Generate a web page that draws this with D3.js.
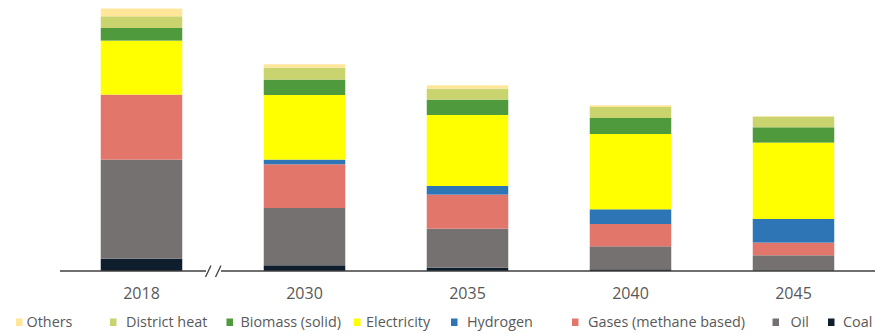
<!DOCTYPE html>
<html>
<head>
<meta charset="utf-8">
<script src="https://cdn.jsdelivr.net/npm/d3@7"></script>
<style>
  html, body { margin: 0; padding: 0; background: #fff; }
  svg { display: block; }
</style>
</head>
<body>
<svg id="chart" width="875" height="334"></svg>
<script>
// Final energy demand by carrier (TWh), scenario years
const years = ["2018", "2030", "2035", "2040", "2045"];

const coal        = [124,  57,  34,  17,   0];
const oil         = [990, 573, 390, 230, 157];
const gases       = [650, 437, 340, 223, 127];
const hydrogen    = [  0,  47,  86, 147, 236];
const electricity = [540, 646, 710, 753, 764];
const biomass     = [126, 154, 154, 160, 153];
const districtHeat= [117, 120, 110, 110, 107];
const others      = [ 77,  33,  33,  17,   6];

// Stack order from the bottom up
const seriesKeys   = ["Coal", "Oil", "Gases (methane based)", "Hydrogen", "Electricity", "Biomass (solid)", "District heat", "Others"];
const seriesValues = [coal, oil, gases, hydrogen, electricity, biomass, districtHeat, others];
const seriesColors = ["#0f1e2d", "#767171", "#e3766b", "#2e75b6", "#ffff00", "#4e9a3c", "#c9d46e", "#ffe699"];

// Legend reads left to right in the reverse of the stack
const legendOrder = ["Others", "District heat", "Biomass (solid)", "Electricity", "Hydrogen", "Gases (methane based)", "Oil", "Coal"];

const svg = d3.select("#chart");
const W = 875, baseY = 271;

const rows = years.map((y, i) => {
  const r = { year: y };
  seriesKeys.forEach((k, j) => { r[k] = seriesValues[j][i]; });
  return r;
});

const x = d3.scaleBand()
  .domain(years)
  .range([60, W])
  .paddingInner(0.5)
  .paddingOuter(0.25);

const y = d3.scaleLinear()
  .domain([0, 2700])
  .range([baseY, 1]);

const color = d3.scaleOrdinal().domain(seriesKeys).range(seriesColors);

const stacked = d3.stack().keys(seriesKeys)(rows);

svg.append("g")
  .selectAll("g")
  .data(stacked)
  .join("g")
    .attr("fill", d => color(d.key))
  .selectAll("rect")
  .data(d => d)
  .join("rect")
    .attr("x", d => x(d.data.year))
    .attr("width", x.bandwidth())
    .attr("y", d => y(d[1]))
    .attr("height", d => Math.max(0, y(d[0]) - y(d[1])));

// Baseline with an axis break between 2018 and 2030
const axisColor = "#3f3f3f";
const breakL = 206, breakR = 221;
svg.append("line")
  .attr("x1", 60).attr("x2", breakL).attr("y1", baseY).attr("y2", baseY)
  .attr("stroke", axisColor).attr("stroke-width", 1.3);
svg.append("line")
  .attr("x1", breakR).attr("x2", W).attr("y1", baseY).attr("y2", baseY)
  .attr("stroke", axisColor).attr("stroke-width", 1.3);
[[205.5, 211], [215.5, 221]].forEach(([a, b]) => {
  svg.append("line")
    .attr("x1", a).attr("y1", baseY + 6)
    .attr("x2", b).attr("y2", baseY - 5.5)
    .attr("stroke", axisColor).attr("stroke-width", 1.3);
});

// Year labels
const xAxis = svg.append("g")
  .attr("transform", `translate(0,${baseY})`)
  .call(d3.axisBottom(x).tickSize(0).tickPadding(17));
xAxis.select(".domain").remove();
xAxis.selectAll("text")
  .attr("fill", "#595959")
  .style("font-family", "'Open Sans', sans-serif")
  .style("font-size", "16px");

// Legend
const legendSquareX = [16, 110, 226.5, 354, 451, 572, 772.5, 828];
const legendTextX   = [26.5, 126, 240.5, 366, 467, 588, 790.5, 843];
const legend = svg.append("g");
legendOrder.forEach((name, i) => {
  legend.append("rect")
    .attr("x", legendSquareX[i]).attr("y", 318.5)
    .attr("width", 6.5).attr("height", 7.5)
    .attr("fill", color(name));
  legend.append("text")
    .attr("x", legendTextX[i]).attr("y", 326.5)
    .attr("fill", "#595959")
    .style("font-family", "'Open Sans', sans-serif")
    .style("font-size", "14.4px")
    .text(name);
});
</script>
</body>
</html>
